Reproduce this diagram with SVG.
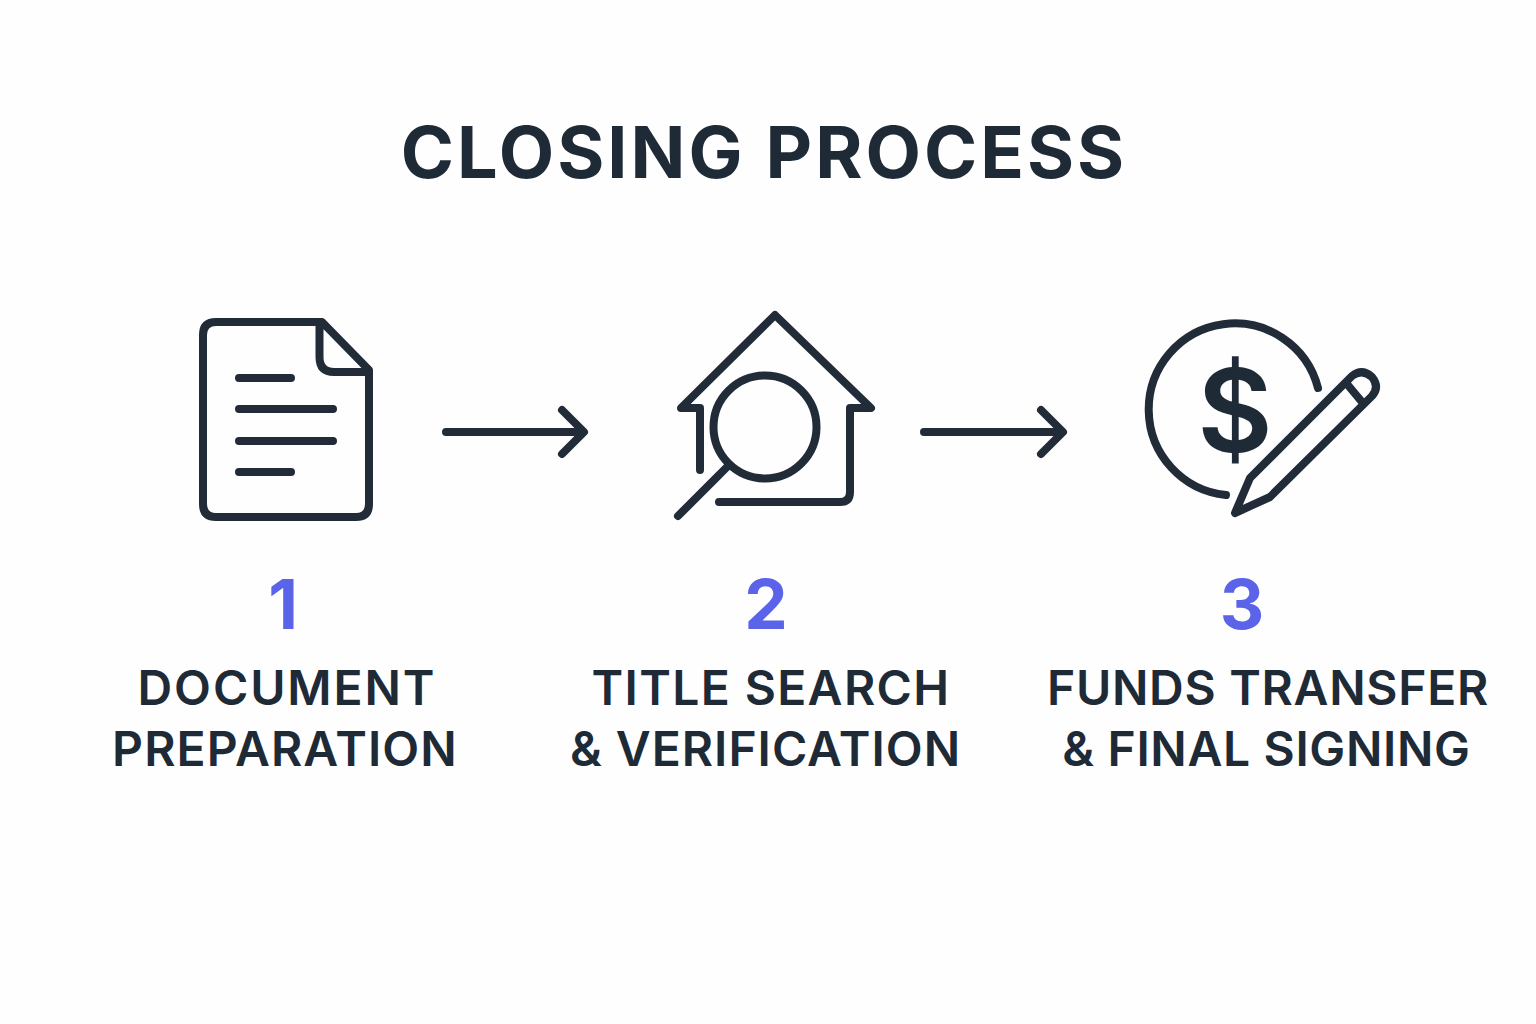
<svg xmlns="http://www.w3.org/2000/svg" width="1536" height="1024" viewBox="0 0 1536 1024">
<style>
.i{fill:none;stroke:#212c38;stroke-width:8;stroke-linecap:round;stroke-linejoin:round}
.t{font-family:Inter,"Liberation Sans",sans-serif;font-weight:600;fill:#1f2a37;text-anchor:middle;font-size:48px}
.n{font-family:Inter,"Liberation Sans",sans-serif;font-weight:700;fill:#5b63e8;text-anchor:middle;font-size:69px}
</style>
<rect width="1536" height="1024" fill="#fefefe"/>
<text x="764" y="178" font-family="Inter,'Liberation Sans',sans-serif" font-weight="700" font-size="72" fill="#1f2a37" text-anchor="middle" letter-spacing="3">CLOSING PROCESS</text>
<g id="node1">
<path class="i" d="M322 322H216Q203 322 203 335V504Q203 517 216 517H356Q369 517 369 504V370ZM319.500 324V357Q319.500 372 334 372H368"/>
<path class="i" d="M239 378H291M239 409H333M239 441H333M239 472H291"/>
<text class="n" x="283" y="629">1</text>
<text class="t" x="287" y="705" letter-spacing="1.900">DOCUMENT</text>
<text class="t" x="285" y="766" letter-spacing="1.100">PREPARATION</text>
</g>
<g id="node2">
<path class="i" d="M700 470V408H681L775 315L871 408H850V492Q850 502 840 502H719"/>
<circle class="i" cx="765" cy="427" r="51.500"/>
<path class="i" d="M727 467L678 516"/>
<text class="n" x="766" y="629">2</text>
<text class="t" x="771" y="705" letter-spacing="1.350">TITLE SEARCH</text>
<text class="t" x="765.500" y="766" letter-spacing="1">&amp; VERIFICATION</text>
</g>
<g id="node3">
<path class="i" d="M1318 388A86 86 0 1 0 1226 495"/>
<text x="1235" y="452" font-family="Inter,'Liberation Sans',sans-serif" font-weight="600" font-size="116" fill="#1f2a37" text-anchor="middle">$</text>
<path class="i" d="M1235 513L1250 478L1352 376Q1362 368 1372 377Q1380 387 1372 396L1270 497ZM1347 384L1362 402"/>
<text class="n" x="1242" y="629">3</text>
<text class="t" x="1268" y="705" letter-spacing="0.700">FUNDS TRANSFER</text>
<text class="t" x="1266.500" y="766" letter-spacing="0.650">&amp; FINAL SIGNING</text>
</g>
<g id="connectors">
<path class="i" d="M446 432H583M562 410L584 432L562 454"/>
<path class="i" d="M924 432H1062M1041 410L1063 432L1041 454"/>
</g>
</svg>
